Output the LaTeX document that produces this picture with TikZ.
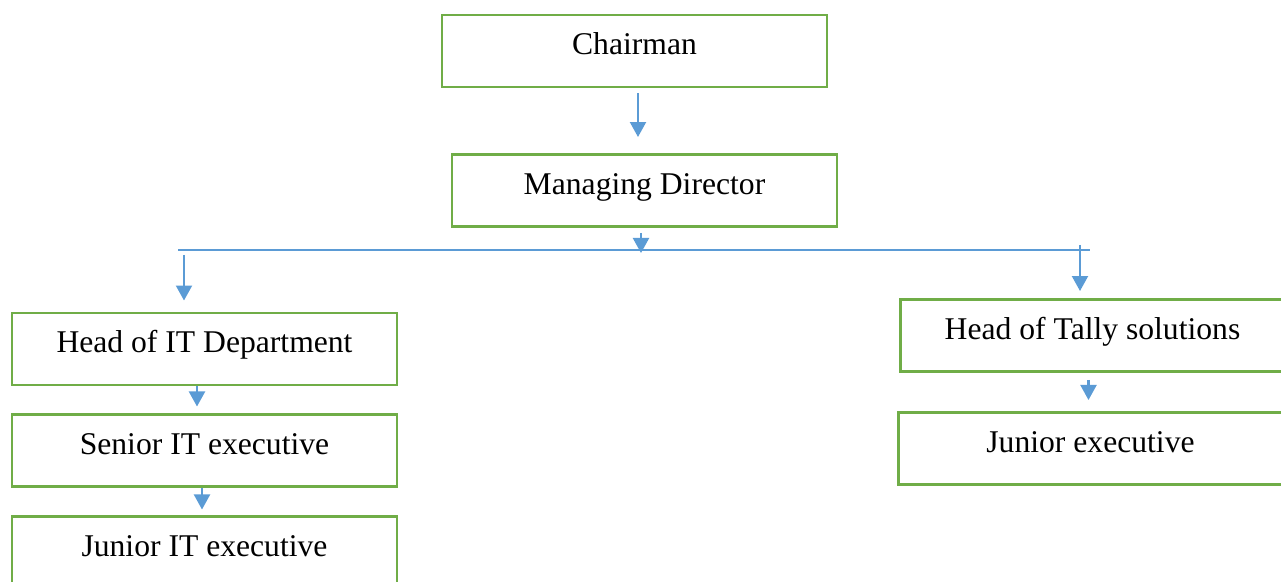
\documentclass[tikz,border=0pt]{standalone}
\usepackage{fontspec}
\setmainfont{Liberation Serif}
\usetikzlibrary{arrows.meta,positioning}
\definecolor{boxgreen}{HTML}{70AD47}
\definecolor{linkblue}{HTML}{5B9BD5}

\begin{document}
\begin{tikzpicture}[
    box/.style={draw=boxgreen, line width=1.7pt, minimum width=7.7cm, minimum height=1.44cm,
        text height=0.5cm, text depth=0.34cm, inner sep=0pt, font=\fontsize{18}{21}\selectfont},
    arrow/.style={-{Triangle[length=0.3cm,width=0.32cm]}, linkblue, line width=1.2pt},
    bus/.style={linkblue, line width=0.7pt}
]
\useasboundingbox (0,0) rectangle (25.62,-11.64);
\node[box] (chair) at (12.69,-1.02) {Chairman};
\node[box] (md) at (12.89,-3.81) {Managing Director};
\node[box] (it) at (4.09,-6.98) {Head of IT Department};
\node[box] (sit) [below=0.54cm of it] {Senior IT executive};
\node[box] (jit) [below=0.54cm of sit] {Junior IT executive};
\node[box] (tally) at (21.85,-6.71) {Head of Tally solutions};
\node[box] (jex) [below=0.76cm of tally, xshift=-0.04cm] {Junior executive};
\coordinate (busL) at (3.56,-5.0);
\coordinate (busR) at (21.8,-5.0);
\coordinate (itIn) at (3.68,-5.1);
\coordinate (tallyIn) at (21.6,-4.9);
% links
\draw[arrow, shorten <=0.1cm, shorten >=0.32cm] ([xshift=0.07cm]chair.south) -- ([xshift=0.07cm]chair.south |- md.north);
\draw[bus] (busL) -- (busR);
\draw[arrow, shorten <=0.1cm] ([xshift=-0.07cm]md.south) -- ([xshift=-0.07cm,yshift=-0.06cm]md.south |- busL);
\draw[arrow, shorten >=0.22cm] (itIn) -- (itIn |- it.north);
\draw[arrow, shorten >=0.14cm] (tallyIn) -- (tallyIn |- tally.north);
\draw[arrow, shorten >=0.14cm] ([xshift=-0.15cm]it.south) -- ([xshift=-0.15cm]it.south |- sit.north);
\draw[arrow, shorten >=0.12cm] ([xshift=-0.05cm]sit.south) -- ([xshift=-0.05cm]sit.south |- jit.north);
\draw[arrow, shorten <=0.14cm, shorten >=0.22cm] ([xshift=-0.08cm]tally.south) -- ([xshift=-0.08cm]tally.south |- jex.north);
\end{tikzpicture}
\end{document}
